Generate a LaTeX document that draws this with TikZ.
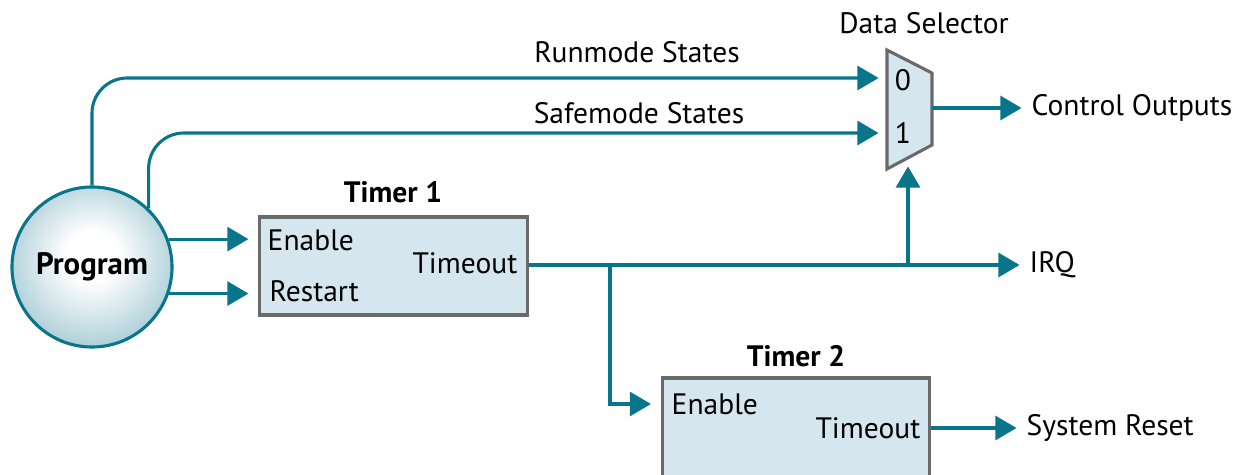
\documentclass[tikz,border=0pt]{standalone}
\usepackage{fontspec}
\setmainfont{PT Sans}
\usetikzlibrary{arrows.meta}
\definecolor{flowteal}{HTML}{08758A}
\definecolor{boxfill}{HTML}{D5E6EF}
\definecolor{boxedge}{HTML}{6A6A6A}
\definecolor{ballrim}{HTML}{4C95AA}
\pgfdeclareradialshading{progball}{\pgfpoint{0bp}{4bp}}{color(0bp)=(white); color(8bp)=(white); color(50bp)=(ballrim)}

\begin{document}
\begin{tikzpicture}[x=0.025cm,y=-0.025cm,
  font=\fontsize{21}{25}\selectfont,
  flow/.style={draw=flowteal,line width=2.2pt,-{Triangle[length=15pt,width=17pt]}},
  timerbox/.style={draw=boxedge,fill=boxfill,line width=2.2pt,minimum width=6.68cm},
  title/.style={font=\fontsize{21}{25}\selectfont\bfseries},
  lbl/.style={inner sep=1pt}]
\clip (0,0) rectangle (1244,474);
% program
\node[circle,minimum size=4cm,inner sep=0pt,draw=flowteal,line width=2.2pt,shading=progball,font=\fontsize{22}{26}\selectfont\bfseries] (prog) at (92,267) {Program};
% timers
\node[timerbox,minimum height=2.45cm] (t1) at (393.5,266) {};
\node[title] (t1name) at (393,192) {Timer 1};
\node[lbl,anchor=west] (t1en) at (266,240) {Enable};
\node[lbl,anchor=west] (t1rs) at (268,291) {Restart};
\node[lbl,anchor=east] (t1out) at (519,263) {Timeout};
\node[timerbox,minimum height=3.1cm] (t2) at (796,440) {};
\node[title] (t2name) at (796,356) {Timer 2};
\node[lbl,anchor=west] (t2en) at (670,404) {Enable};
\node[lbl,anchor=east] (t2out) at (922,428) {Timeout};
% data selector
\draw[draw=boxedge,fill=boxfill,line width=2.2pt] (887,50) -- (932,73) -- (932,145) -- (887,169) -- cycle;
\coordinate (mux0) at (887,78);
\coordinate (mux1) at (887,133);
\coordinate (muxsel) at (908,158);
\coordinate (muxout) at (932,108);
\node[lbl] (sel0) at (903,80) {0};
\node[lbl] (sel1) at (903,133) {1};
\node[lbl] (muxname) at (924,23) {Data Selector};
% outputs and labels
\node[lbl,anchor=west] (ctrl) at (1030,108) {Control Outputs};
\node[lbl,anchor=west] (irq) at (1028,265) {IRQ};
\node[lbl,anchor=west] (sysrst) at (1025,428) {System Reset};
\node[lbl] (runlbl) at (637,52) {Runmode States};
\node[lbl] (safelbl) at (639,113) {Safemode States};
\coordinate (tap1) at (610,265);
\coordinate (tap2) at (908,265);
% connectors
\draw[flow,rounded corners=25pt,shorten >=6pt] (prog.north) |- (mux0);
\draw[flow,rounded corners=25pt,shorten >=6pt] (prog.46) |- (mux1);
\draw[flow,shorten >=7pt] (prog.20) -- (prog.20 -| t1.west);
\draw[flow,shorten >=7pt] (prog.-19) -- (prog.-19 -| t1.west);
\draw[flow,shorten >=6pt] (t1.east |- tap1) -- (irq.west);
\draw[flow,shorten >=7pt] (tap1) |- (t2.west |- t2en);
\draw[flow,shorten >=6pt] (tap2) -- (muxsel);
\draw[flow,shorten >=6pt] (muxout) -- (ctrl.west);
\draw[flow,shorten >=6pt] (t2.east |- t2out) -- (sysrst.west);
\end{tikzpicture}
\end{document}
